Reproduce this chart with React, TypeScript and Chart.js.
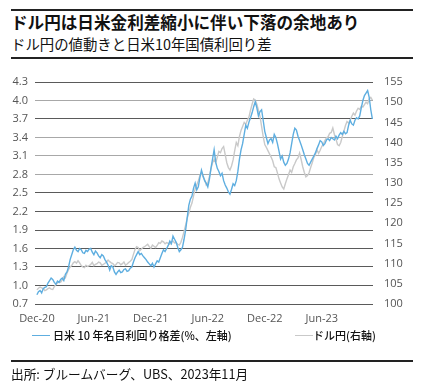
import React, { useEffect, useRef } from "react";
import { Chart, registerables } from "chart.js";

Chart.register(...registerables);

const tickMonths = [0, 6, 12, 18, 24, 30];
const tickLabels = ["Dec-20", "Jun-21", "Dec-21", "Jun-22", "Dec-22", "Jun-23"];
const samplesPerMonth = 6;
const leftTicks = [0.7, 1.0, 1.3, 1.6, 1.9, 2.2, 2.5, 2.8, 3.1, 3.4, 3.7, 4.0, 4.3];
const rightTicks = [100, 105, 110, 115, 120, 125, 130, 135, 140, 145, 150, 155];

const yieldSpread = [
  0.85, 0.9, 0.92, 0.88, 0.95, 0.97, 0.98, 1.04, 1.08, 1.12, 1.1, 1.05, 1.02, 1.07, 1.05, 1.1, 1.12, 1.08, 1.18, 1.22,
  1.3, 1.42, 1.5, 1.58, 1.62, 1.57, 1.55, 1.6, 1.58, 1.53, 1.52, 1.57, 1.55, 1.59, 1.6, 1.54, 1.5, 1.56, 1.53, 1.48,
  1.45, 1.5, 1.48, 1.42, 1.38, 1.33, 1.25, 1.32, 1.3, 1.22, 1.18, 1.22, 1.25, 1.21, 1.22, 1.26, 1.27, 1.23, 1.24, 1.28,
  1.3, 1.38, 1.45, 1.5, 1.55, 1.5, 1.52, 1.48, 1.45, 1.42, 1.38, 1.35, 1.32, 1.36, 1.3, 1.35, 1.4, 1.38, 1.45, 1.52,
  1.58, 1.55, 1.6, 1.65, 1.72, 1.68, 1.8, 1.75, 1.7, 1.62, 1.55, 1.58, 1.62, 1.75, 1.9, 2.1, 2.3, 2.4, 2.45, 2.58,
  2.66, 2.55, 2.6, 2.75, 2.87, 2.78, 2.7, 2.66, 2.6, 2.72, 2.9, 3.05, 3.2, 3.0, 2.9, 2.85, 2.78, 2.82, 2.7, 2.63,
  2.58, 2.52, 2.48, 2.56, 2.65, 2.62, 2.7, 2.85, 3.05, 3.2, 3.3, 3.45, 3.6, 3.55, 3.65, 3.72, 3.8, 3.9, 3.98, 3.88,
  3.75, 3.82, 3.85, 3.68, 3.5, 3.4, 3.3, 3.36, 3.38, 3.32, 3.45, 3.4, 3.3, 3.18, 3.05, 3.1, 3.0, 2.95, 2.98, 3.05,
  3.15, 3.3, 3.45, 3.55, 3.52, 3.42, 3.35, 3.28, 3.2, 3.12, 3.05, 2.98, 2.95, 3.0, 3.05, 3.1, 3.15, 3.22, 3.28, 3.35,
  3.33, 3.27, 3.3, 3.36, 3.38, 3.35, 3.4, 3.38, 3.36, 3.42, 3.38, 3.44, 3.48, 3.45, 3.5, 3.46, 3.48, 3.6, 3.68, 3.62,
  3.6, 3.68, 3.72, 3.7, 3.75, 3.88, 4.0, 4.08, 4.12, 4.16, 4.05, 3.85, 3.7,
];

const usdJpy = [
  103.5, 103.9, 104.2, 104.0, 103.8, 103.3, 103.5, 103.8, 104, 103.7, 103.6, 104.3, 104.8, 105.2, 105.5, 105.4, 106, 106.8, 106.5, 107.6,
  108.5, 109.2, 109.5, 110.2, 110.5, 110.1, 110.7, 110.2, 109.5, 109.2, 109, 109.6, 109.3, 109.5, 109.8, 110.3, 109.5, 109.8, 110, 110.4,
  110.2, 109.6, 109.8, 110.1, 110.4, 110.9, 110.5, 110.2, 110, 109.5, 109.8, 110.3, 110.2, 109.7, 110, 110.4, 109.6, 109.9, 110.3, 110.6,
  111, 112.3, 113.5, 114.2, 114, 113.2, 113.6, 114.0, 114.2, 114.5, 114.8, 114.2, 113.8, 114.6, 114.3, 114.0, 114.5, 115.2, 115, 115.6,
  115.4, 114.9, 115.2, 115.0, 114.8, 115.3, 115.6, 115.1, 115.2, 114.8, 114.6, 115.3, 116.5, 118, 119.5, 121.3, 122.5, 124, 125, 126.8,
  128.5, 129.5, 130.5, 131.8, 132.5, 131.5, 130.8, 129.5, 130, 131.5, 133.5, 135, 135.8, 135, 136.4, 137.8, 137.5, 138.5, 139, 137,
  135, 133.8, 133.2, 134.2, 135.7, 138, 140, 139.2, 141.5, 143, 144, 145, 144.5, 145.5, 146.3, 148, 149.5, 150.8, 150.5, 149.5,
  148, 146.5, 144, 141.5, 139.5, 138.8, 138, 137.2, 136.4, 135.5, 134, 133.8, 132.5, 131, 130, 129, 128.5, 129.8, 131, 132,
  133.2, 132.6, 134, 134.8, 135.7, 136.2, 137.4, 135.8, 134, 132.6, 131.5, 131.8, 132.5, 133.8, 135, 136.3, 137, 138.2, 137.3, 138.1,
  139, 139.6, 140.5, 141.2, 141.4, 142.3, 142.5, 143.6, 142, 140.8, 139.5, 139.2, 140, 141.5, 142.8, 144.2, 145.2, 144.8, 145.6, 146.5,
  147.3, 146.8, 147.8, 148.5, 148.2, 149, 148.8, 149.4, 150, 149.6, 150.8, 151.2, 150.5,
];

const spreadLabel = "日米 10 年名目利回り格差(%、左軸)";
const jpyLabel = "ドル円(右軸)";

const BLUE = "#5eaee0";
const GRAY = "#c9c9c9";
const TICK_COLOR = "#555555";
const darkGrid = new Set([0, 1, 2, 3, 4, 5, 6, 10, 12]);

export default function App() {
  const ref = useRef<HTMLCanvasElement | null>(null);

  useEffect(() => {
    if (!ref.current) return;
    const tickFont = { family: "'Open Sans', sans-serif", size: 11 };
    const chart = new Chart(ref.current, {
      type: "line",
      data: {
        datasets: [
          {
            label: spreadLabel,
            data: yieldSpread.map((v, i) => ({ x: i / samplesPerMonth, y: v })),
            borderColor: BLUE,
            borderWidth: 1.4,
            pointRadius: 0,
            yAxisID: "y",
          },
          {
            label: jpyLabel,
            data: usdJpy.map((v, i) => ({ x: i / samplesPerMonth, y: v })),
            borderColor: GRAY,
            borderWidth: 1.4,
            pointRadius: 0,
            yAxisID: "y2",
          },
        ],
      },
      options: {
        animation: false,
        responsive: false,
        maintainAspectRatio: false,
        layout: { padding: { top: 22, left: 0, right: 0, bottom: 0 } },
        plugins: { legend: { display: false }, tooltip: { enabled: false } },
        scales: {
          x: {
            type: "linear",
            min: -0.2,
            max: 35.4,
            grid: { display: false, drawTicks: false },
            border: { display: false },
            afterBuildTicks: (s: any) => {
              s.ticks = tickMonths.map((v) => ({ value: v }));
            },
            afterFit: (s: any) => {
              s.height = 26;
            },
            ticks: {
              autoSkip: false,
              maxRotation: 0,
              padding: 8,
              color: TICK_COLOR,
              font: tickFont,
              callback: (v: any) => {
                const k = tickMonths.indexOf(Number(v));
                return k >= 0 ? tickLabels[k] : "";
              },
            },
          },
          y: {
            position: "left",
            min: 0.7,
            max: 4.3,
            afterBuildTicks: (s: any) => {
              s.ticks = leftTicks.map((v) => ({ value: v }));
            },
            afterFit: (s: any) => {
              s.width = 35;
            },
            grid: {
              drawTicks: false,
              lineWidth: 1,
              color: (c: any) => (darkGrid.has(c.index) ? "#5a5a5a" : "#a8a8a8"),
            },
            border: { display: false },
            ticks: {
              padding: 7,
              color: TICK_COLOR,
              font: tickFont,
              callback: (v: any) => Number(v).toFixed(1),
            },
          },
          y2: {
            position: "right",
            min: 100,
            max: 155,
            afterBuildTicks: (s: any) => {
              s.ticks = rightTicks.map((v) => ({ value: v }));
            },
            afterFit: (s: any) => {
              s.width = 49;
            },
            grid: { drawOnChartArea: false, drawTicks: false },
            border: { display: false },
            ticks: {
              padding: 11,
              color: TICK_COLOR,
              font: tickFont,
            },
          },
        },
      },
    } as any);
    return () => chart.destroy();
  }, []);

  const jp = "'Noto Sans CJK JP', 'Noto Sans', sans-serif";
  const rule = (top: number) => (
    <div style={{ position: "absolute", left: 11, width: 402, top, height: 2, background: "#222" }} />
  );

  return (
    <div style={{ position: "fixed", left: 0, top: 0, width: 422, height: 386, background: "#fff", overflow: "hidden" }}>
      {rule(9)}
      <div style={{ position: "absolute", left: 11, top: 13.5, fontFamily: jp, fontWeight: 700, fontSize: 16.6, lineHeight: 1, color: "#111", whiteSpace: "nowrap" }}>
        ドル円は日米金利差縮小に伴い下落の余地あり
      </div>
      <div style={{ position: "absolute", left: 11, top: 37.3, fontFamily: jp, fontSize: 14.4, lineHeight: 1, color: "#111", whiteSpace: "nowrap" }}>
        ドル円の値動きと日米10年国債利回り差
      </div>
      {rule(56.5)}
      <canvas ref={ref} width={422} height={270} style={{ position: "absolute", left: 0, top: 60, width: 422, height: 270 }} />
      <div style={{ position: "absolute", left: 32, top: 334.5, width: 18, height: 1.5, background: BLUE }} />
      <div style={{ position: "absolute", left: 53, top: 329.5, fontFamily: jp, fontWeight: 500, fontSize: 11, lineHeight: 1, color: "#111", whiteSpace: "nowrap" }}>
        {spreadLabel}
      </div>
      <div style={{ position: "absolute", left: 295, top: 334.5, width: 18, height: 1.5, background: GRAY }} />
      <div style={{ position: "absolute", left: 313, top: 329.5, fontFamily: jp, fontWeight: 500, fontSize: 11, lineHeight: 1, color: "#111", whiteSpace: "nowrap" }}>
        {jpyLabel}
      </div>
      {rule(359.5)}
      <div style={{ position: "absolute", left: 11, top: 367.6, fontFamily: jp, fontSize: 12.7, lineHeight: 1, color: "#111", whiteSpace: "nowrap" }}>
        出所: ブルームバーグ、UBS、2023年11月
      </div>
    </div>
  );
}
